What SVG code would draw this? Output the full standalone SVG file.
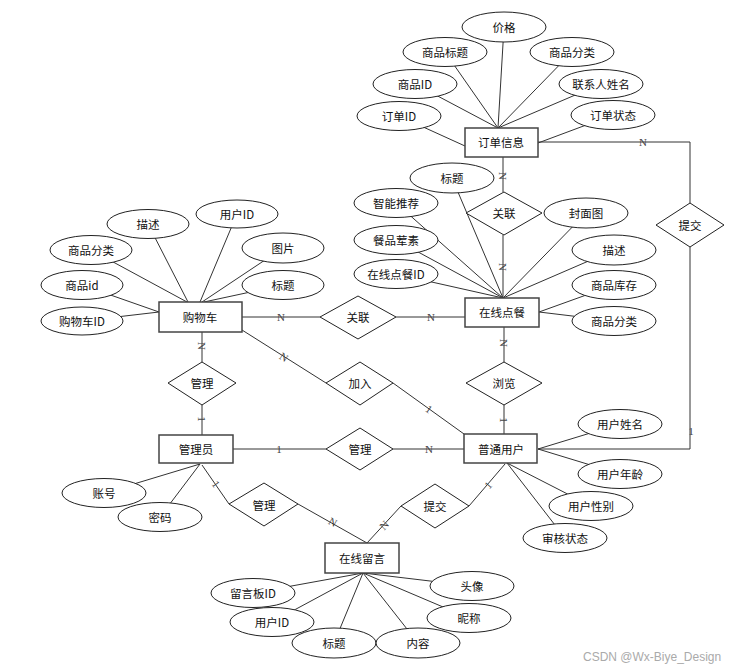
<svg xmlns="http://www.w3.org/2000/svg" width="738" height="670" viewBox="0 0 738 670">
<style>
.l{stroke:#333;stroke-width:1;fill:none}
.e{fill:#fff;stroke:#222;stroke-width:1}
.r{fill:#fff;stroke:#444;stroke-width:1.5}
.d{fill:#fff;stroke:#222;stroke-width:1}
.t{font-family:"Noto Sans CJK SC","Noto Sans",sans-serif;font-size:11.5px;fill:#111;text-anchor:middle;dominant-baseline:central}
.c{font-family:"Liberation Serif",serif;font-size:11px;fill:#444;text-anchor:middle;dominant-baseline:central}
.w{font-family:"Liberation Sans",sans-serif;font-size:12px;fill:#aaa}
</style>
<rect width="738" height="670" fill="#fff"/>
<g id="connectors">
<!-- 订单信息 attributes -->
<line class="l" x1="504" y1="27" x2="498" y2="128"/>
<line class="l" x1="445" y1="52" x2="498" y2="128"/>
<line class="l" x1="572" y1="52" x2="498" y2="128"/>
<line class="l" x1="415" y1="84" x2="498" y2="128"/>
<line class="l" x1="601" y1="84" x2="498" y2="128"/>
<line class="l" x1="399" y1="116" x2="465" y2="146"/>
<line class="l" x1="613" y1="115" x2="538" y2="143"/>
<!-- 在线点餐 attributes -->
<line class="l" x1="452" y1="178" x2="503" y2="298"/>
<line class="l" x1="396" y1="203" x2="503" y2="298"/>
<line class="l" x1="396" y1="240" x2="503" y2="298"/>
<line class="l" x1="396" y1="274" x2="503" y2="298"/>
<line class="l" x1="586" y1="213" x2="503" y2="298"/>
<line class="l" x1="614" y1="250" x2="503" y2="298"/>
<line class="l" x1="614" y1="285" x2="539" y2="312"/>
<line class="l" x1="614" y1="321" x2="539" y2="312"/>
<!-- 购物车 attributes -->
<line class="l" x1="148" y1="224" x2="188" y2="302"/>
<line class="l" x1="237" y1="214" x2="200" y2="302"/>
<line class="l" x1="91" y1="250" x2="187" y2="302"/>
<line class="l" x1="283" y1="248" x2="202" y2="302"/>
<line class="l" x1="283" y1="285" x2="204" y2="302"/>
<line class="l" x1="82" y1="285" x2="159" y2="312"/>
<line class="l" x1="82" y1="321" x2="159" y2="312"/>
<!-- 普通用户 attributes -->
<line class="l" x1="620" y1="424" x2="538" y2="449"/>
<line class="l" x1="620" y1="474" x2="538" y2="449"/>
<line class="l" x1="591" y1="506" x2="507" y2="463"/>
<line class="l" x1="565" y1="538" x2="507" y2="463"/>
<!-- 管理员 attributes -->
<line class="l" x1="104" y1="493" x2="200" y2="464"/>
<line class="l" x1="160" y1="517" x2="200" y2="464"/>
<!-- 在线留言 attributes -->
<line class="l" x1="253" y1="593" x2="363" y2="573"/>
<line class="l" x1="272" y1="622" x2="363" y2="573"/>
<line class="l" x1="334" y1="643" x2="363" y2="573"/>
<line class="l" x1="418" y1="643" x2="363" y2="573"/>
<line class="l" x1="469" y1="618" x2="363" y2="573"/>
<line class="l" x1="472" y1="586" x2="363" y2="573"/>
<!-- relationships -->
<polyline class="l" points="538,142 690,142 690,203"/>
<polyline class="l" points="690,247 690,449 538,449"/>
<line class="l" x1="503" y1="157" x2="503" y2="192"/>
<line class="l" x1="503" y1="235" x2="503" y2="298"/>
<line class="l" x1="242" y1="317" x2="320" y2="317"/>
<line class="l" x1="396" y1="317" x2="465" y2="317"/>
<line class="l" x1="202" y1="332" x2="202" y2="362"/>
<line class="l" x1="202" y1="405" x2="202" y2="435"/>
<line class="l" x1="242" y1="330" x2="326" y2="383"/>
<line class="l" x1="393" y1="383" x2="464" y2="434"/>
<line class="l" x1="504" y1="327" x2="504" y2="362"/>
<line class="l" x1="504" y1="405" x2="504" y2="434"/>
<line class="l" x1="233" y1="449" x2="326" y2="449"/>
<line class="l" x1="393" y1="449" x2="464" y2="449"/>
<line class="l" x1="202" y1="465" x2="229" y2="504"/>
<line class="l" x1="298" y1="504" x2="367" y2="543"/>
<line class="l" x1="367" y1="543" x2="401" y2="506"/>
<line class="l" x1="469" y1="506" x2="505" y2="464"/>
<!-- cardinality labels -->
<text class="c" x="643" y="142">N</text>
<text class="c" x="691" y="431">1</text>
<text class="c" transform="translate(503,176) rotate(90)">N</text>
<text class="c" transform="translate(503,267) rotate(90)">N</text>
<text class="c" x="281" y="317">N</text>
<text class="c" x="431" y="317">N</text>
<text class="c" transform="translate(202,346) rotate(90)">N</text>
<text class="c" transform="translate(202,419) rotate(90)">1</text>
<text class="c" transform="translate(284,357) rotate(32)">N</text>
<text class="c" transform="translate(429,409) rotate(35)">1</text>
<text class="c" transform="translate(504,343) rotate(90)">N</text>
<text class="c" transform="translate(504,420) rotate(90)">1</text>
<text class="c" x="279" y="449">1</text>
<text class="c" x="429" y="449">N</text>
<text class="c" transform="translate(216,484) rotate(55)">1</text>
<text class="c" transform="translate(333,522) rotate(29)">N</text>
<text class="c" transform="translate(384,525) rotate(-47)">N</text>
<text class="c" transform="translate(488,485) rotate(-49)">1</text>
</g>
<!-- 订单信息 -->
<g id="order">
<rect class="r" x="465" y="128" width="73" height="29"/>
<text class="t" x="501" y="142">订单信息</text>
</g>
<g id="order-attrs">
<ellipse class="e" cx="504" cy="27" rx="42" ry="15"/><text class="t" x="504" y="27">价格</text>
<ellipse class="e" cx="445" cy="52" rx="42" ry="14.5"/><text class="t" x="445" y="52">商品标题</text>
<ellipse class="e" cx="572" cy="52" rx="42" ry="14.5"/><text class="t" x="572" y="52">商品分类</text>
<ellipse class="e" cx="415" cy="84" rx="42" ry="14.5"/><text class="t" x="415" y="84">商品ID</text>
<ellipse class="e" cx="601" cy="84" rx="42" ry="14.5"/><text class="t" x="601" y="84">联系人姓名</text>
<ellipse class="e" cx="399" cy="116" rx="42" ry="14.5"/><text class="t" x="399" y="116">订单ID</text>
<ellipse class="e" cx="613" cy="115" rx="42" ry="14.5"/><text class="t" x="613" y="115">订单状态</text>
</g>
<!-- 在线点餐 -->
<g id="meal">
<rect class="r" x="465" y="298" width="74" height="29"/>
<text class="t" x="502" y="312">在线点餐</text>
</g>
<g id="meal-attrs">
<ellipse class="e" cx="452" cy="178" rx="42" ry="15"/><text class="t" x="452" y="178">标题</text>
<ellipse class="e" cx="396" cy="203" rx="42" ry="14.5"/><text class="t" x="396" y="203">智能推荐</text>
<ellipse class="e" cx="396" cy="240" rx="42" ry="14.5"/><text class="t" x="396" y="240">餐品荤素</text>
<ellipse class="e" cx="396" cy="274" rx="42" ry="14.5"/><text class="t" x="396" y="274">在线点餐ID</text>
<ellipse class="e" cx="586" cy="213" rx="42" ry="15"/><text class="t" x="586" y="213">封面图</text>
<ellipse class="e" cx="614" cy="250" rx="42" ry="15"/><text class="t" x="614" y="250">描述</text>
<ellipse class="e" cx="614" cy="285" rx="42" ry="14.5"/><text class="t" x="614" y="285">商品库存</text>
<ellipse class="e" cx="614" cy="321" rx="42" ry="14.5"/><text class="t" x="614" y="321">商品分类</text>
</g>
<!-- 购物车 -->
<g id="cart">
<rect class="r" x="159" y="302" width="83" height="30"/>
<text class="t" x="200" y="317">购物车</text>
</g>
<g id="cart-attrs">
<ellipse class="e" cx="148" cy="224" rx="41" ry="14.5"/><text class="t" x="148" y="224">描述</text>
<ellipse class="e" cx="237" cy="214" rx="41" ry="14"/><text class="t" x="237" y="214">用户ID</text>
<ellipse class="e" cx="91" cy="250" rx="41" ry="14.5"/><text class="t" x="91" y="250">商品分类</text>
<ellipse class="e" cx="283" cy="248" rx="41" ry="15"/><text class="t" x="283" y="248">图片</text>
<ellipse class="e" cx="82" cy="285" rx="41" ry="14.5"/><text class="t" x="82" y="285">商品id</text>
<ellipse class="e" cx="283" cy="285" rx="41" ry="14.5"/><text class="t" x="283" y="285">标题</text>
<ellipse class="e" cx="82" cy="321" rx="41" ry="14"/><text class="t" x="82" y="321">购物车ID</text>
</g>
<!-- 管理员 -->
<g id="admin">
<rect class="r" x="159" y="435" width="74" height="28"/>
<text class="t" x="196" y="449">管理员</text>
</g>
<g id="admin-attrs">
<ellipse class="e" cx="104" cy="493" rx="42" ry="14.5"/><text class="t" x="104" y="493">账号</text>
<ellipse class="e" cx="160" cy="517" rx="42" ry="14.5"/><text class="t" x="160" y="517">密码</text>
</g>
<!-- 普通用户 -->
<g id="user">
<rect class="r" x="464" y="434" width="73" height="29"/>
<text class="t" x="501" y="449">普通用户</text>
</g>
<g id="user-attrs">
<ellipse class="e" cx="620" cy="424" rx="42" ry="14.5"/><text class="t" x="620" y="424">用户姓名</text>
<ellipse class="e" cx="620" cy="474" rx="42" ry="14.5"/><text class="t" x="620" y="474">用户年龄</text>
<ellipse class="e" cx="591" cy="506" rx="42" ry="14.5"/><text class="t" x="591" y="506">用户性别</text>
<ellipse class="e" cx="565" cy="538" rx="42" ry="14.5"/><text class="t" x="565" y="538">审核状态</text>
</g>
<!-- 在线留言 -->
<g id="message">
<rect class="r" x="325" y="543" width="74" height="30"/>
<text class="t" x="362" y="558">在线留言</text>
</g>
<g id="message-attrs">
<ellipse class="e" cx="253" cy="593" rx="42" ry="14.5"/><text class="t" x="253" y="593">留言板ID</text>
<ellipse class="e" cx="472" cy="586" rx="42" ry="14.5"/><text class="t" x="472" y="586">头像</text>
<ellipse class="e" cx="272" cy="622" rx="42" ry="14.5"/><text class="t" x="272" y="622">用户ID</text>
<ellipse class="e" cx="469" cy="618" rx="42" ry="14.5"/><text class="t" x="469" y="618">昵称</text>
<ellipse class="e" cx="334" cy="643" rx="42" ry="15"/><text class="t" x="334" y="643">标题</text>
<ellipse class="e" cx="418" cy="643" rx="42" ry="15"/><text class="t" x="418" y="643">内容</text>
</g>
<!-- relationships -->
<g id="rel-submit-order">
<polygon class="d" points="690,203 724,225 690,247 656,225"/>
<text class="t" x="690" y="225">提交</text>
</g>
<g id="rel-link-top">
<polygon class="d" points="504,192 542,213 504,235 466,213"/>
<text class="t" x="504" y="213">关联</text>
</g>
<g id="rel-link-cart">
<polygon class="d" points="358,296 396,317 358,339 320,317"/>
<text class="t" x="358" y="317">关联</text>
</g>
<g id="rel-manage-cart">
<polygon class="d" points="202,362 236,383 202,405 168,383"/>
<text class="t" x="202" y="383">管理</text>
</g>
<g id="rel-join">
<polygon class="d" points="360,362 393,383 360,405 326,383"/>
<text class="t" x="360" y="383">加入</text>
</g>
<g id="rel-browse">
<polygon class="d" points="504,362 542,383 504,405 466,383"/>
<text class="t" x="504" y="383">浏览</text>
</g>
<g id="rel-manage-user">
<polygon class="d" points="360,428 393,449 360,470 326,449"/>
<text class="t" x="360" y="449">管理</text>
</g>
<g id="rel-manage-msg">
<polygon class="d" points="264,483 298,504 264,526 229,504"/>
<text class="t" x="264" y="505">管理</text>
</g>
<g id="rel-submit-msg">
<polygon class="d" points="435,484 469,506 435,528 401,506"/>
<text class="t" x="435" y="506">提交</text>
</g>
<text class="w" x="583" y="661">CSDN @Wx-Biye_Design</text>
</svg>
